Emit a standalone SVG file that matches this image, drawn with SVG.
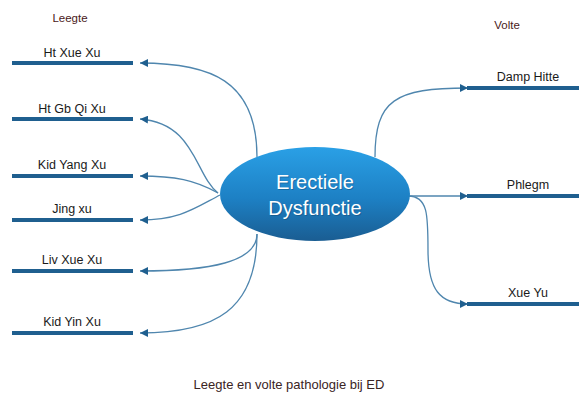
<svg xmlns="http://www.w3.org/2000/svg" width="579" height="394" viewBox="0 0 579 394">
<defs>
<linearGradient id="g" x1="0" y1="0" x2="0" y2="1">
<stop offset="0" stop-color="#2aa0e6"/>
<stop offset="0.55" stop-color="#1d80c4"/>
<stop offset="1" stop-color="#1a5d92"/>
</linearGradient>
<marker id="ah" viewBox="0 0 10 10" refX="10" refY="5" markerWidth="8" markerHeight="8" markerUnits="userSpaceOnUse" orient="auto">
<path d="M0,0 L10,5 L0,10 Z" fill="#1f5f8f"/>
</marker>
<style>
.c{fill:none;stroke:#4f86ae;stroke-width:1.3}
.bar{stroke:#1f5f8f;stroke-width:4}
.lbl{font-family:"Liberation Sans",Arial,sans-serif;font-size:12.5px;fill:#1a1a1a;text-anchor:middle}
.hd{font-family:"Liberation Sans",Arial,sans-serif;font-size:11.5px;fill:#4a2020;text-anchor:middle}
.cap{font-family:"Liberation Sans",Arial,sans-serif;font-size:13px;fill:#3a2424;text-anchor:middle}
.ct{font-family:"Liberation Sans",Arial,sans-serif;font-size:20px;fill:#ffffff;text-anchor:middle}
.sh{fill:#0d3a5c;opacity:0.35}
</style>
</defs>
<rect width="579" height="394" fill="#ffffff"/>
<text class="hd" x="70" y="22">Leegte</text>
<text class="hd" x="507" y="29">Volte</text>
<g id="connectors">
<path class="c" d="M257,157 C257,80 210,63 140,63" marker-end="url(#ah)"/>
<path class="c" d="M218,193 C195,175 195,123 140,119" marker-end="url(#ah)"/>
<path class="c" d="M218,193 C195,180 175,176 140,176" marker-end="url(#ah)"/>
<path class="c" d="M220,195 C195,208 180,220 140,220" marker-end="url(#ah)"/>
<path class="c" d="M257,234 C257,262 210,271 140,271" marker-end="url(#ah)"/>
<path class="c" d="M257,234 C257,310 215,333 140,333" marker-end="url(#ah)"/>
<path class="c" d="M375,157 C375,100 395,88 468,88" marker-end="url(#ah)"/>
<path class="c" d="M408,196 L468,196" marker-end="url(#ah)"/>
<path class="c" d="M408,196 C428,196 428,215 428,250 C428,290 440,304 468,304" marker-end="url(#ah)"/>
</g>
<g id="n-ht-xue-xu"><line class="bar" x1="12" y1="63" x2="133" y2="63"/><text class="lbl" x="72" y="57">Ht Xue Xu</text></g>
<g id="n-ht-gb-qi-xu"><line class="bar" x1="12" y1="119" x2="133" y2="119"/><text class="lbl" x="72" y="113">Ht Gb Qi Xu</text></g>
<g id="n-kid-yang-xu"><line class="bar" x1="12" y1="176" x2="133" y2="176"/><text class="lbl" x="72" y="169">Kid Yang Xu</text></g>
<g id="n-jing-xu"><line class="bar" x1="12" y1="220" x2="133" y2="220"/><text class="lbl" x="72" y="213">Jing xu</text></g>
<g id="n-liv-xue-xu"><line class="bar" x1="12" y1="271" x2="133" y2="271"/><text class="lbl" x="72" y="264">Liv Xue Xu</text></g>
<g id="n-kid-yin-xu"><line class="bar" x1="12" y1="333" x2="133" y2="333"/><text class="lbl" x="72" y="326">Kid Yin Xu</text></g>
<g id="n-damp-hitte"><line class="bar" x1="467" y1="88" x2="579" y2="88"/><text class="lbl" x="528" y="81">Damp Hitte</text></g>
<g id="n-phlegm"><line class="bar" x1="467" y1="196" x2="579" y2="196"/><text class="lbl" x="528" y="189">Phlegm</text></g>
<g id="n-xue-yu"><line class="bar" x1="467" y1="304" x2="579" y2="304"/><text class="lbl" x="528" y="297">Xue Yu</text></g>
<g id="n-center">
<ellipse cx="315" cy="194" rx="95" ry="47" fill="url(#g)"/>
<text class="ct sh" x="316" y="190">Erectiele</text>
<text class="ct" x="315" y="189">Erectiele</text>
<text class="ct sh" x="316" y="216">Dysfunctie</text>
<text class="ct" x="315" y="215">Dysfunctie</text>
</g>
<text class="cap" x="289" y="389">Leegte en volte pathologie bij ED</text>
</svg>
